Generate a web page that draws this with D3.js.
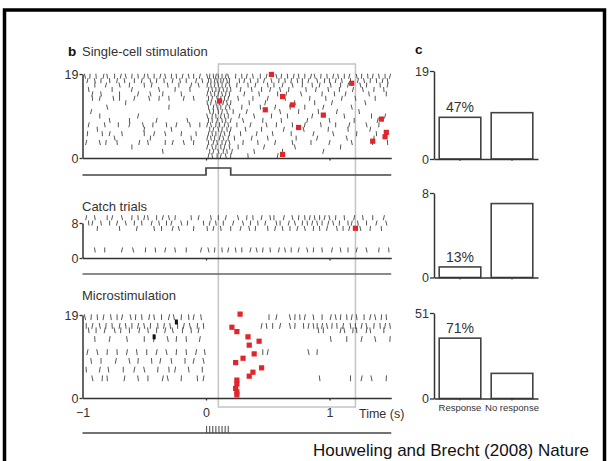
<!DOCTYPE html>
<html><head><meta charset="utf-8">
<script src="https://cdn.jsdelivr.net/npm/d3@7"></script>
<style>
body{margin:0;background:#fff}
svg{display:block}
text{font-family:"Liberation Sans",Arial,Helvetica,sans-serif}
</style>
</head><body>
<svg id="c" width="609" height="461"></svg>
<script>
// ---------------- DATA ----------------
const timeTicks = [-1, 0, 1];
const timeLabels = ["\u22121", "0", "1"];

// Single-cell stimulation: spike times (s), index 0 = trial 1 ... index 18 = trial 19
const singleCellSpikes = [
 [0.02,0.05,0.09,0.12,0.16,0.2,0.34,0.58],
 [-0.35,0.03,0.06,0.1,0.14,0.17,0.21,0.39,0.62,0.95],
 [-0.6,0.01,0.05,0.08,0.12,0.15,0.19,0.26,0.47,0.72,1.09],
 [-0.97,-0.86,-0.81,-0.72,-0.54,-0.47,-0.33,-0.27,-0.18,-0.1,0.02,0.06,0.09,0.13,0.16,0.19,0.3,0.42,0.56,0.7,0.85,1.0,1.18,1.35,1.47],
 [-0.74,-0.45,-0.12,0.01,0.04,0.07,0.11,0.14,0.18,0.23,0.37,0.5,0.73,0.9,1.14,1.36],
 [-0.96,-0.84,-0.78,-0.68,-0.5,-0.42,-0.33,-0.2,-0.08,0.02,0.05,0.08,0.12,0.15,0.19,0.28,0.41,0.54,0.69,0.87,1.03,1.22,1.38],
 [-0.88,-0.5,-0.28,0.03,0.06,0.1,0.13,0.17,0.2,0.32,0.45,0.63,0.79,0.99,1.15,1.33],
 [-0.95,-0.82,-0.71,-0.62,-0.51,-0.43,-0.32,-0.24,-0.13,-0.05,0.01,0.04,0.08,0.11,0.15,0.18,0.25,0.36,0.49,0.57,0.7,0.8,0.93,1.05,1.16,1.3,1.4],
 [-0.78,-0.62,-0.4,-0.15,0.02,0.05,0.09,0.13,0.16,0.2,0.3,0.46,0.61,0.82,1.0,1.2,1.39],
 [-0.86,-0.55,0.01,0.05,0.08,0.12,0.15,0.18,0.27,0.39,0.53,0.66,0.86,1.12,1.34,1.45],
 [-0.93,0.03,0.06,0.1,0.13,0.17,0.22,0.33,0.6,0.75,0.91,1.06,1.24],
 [-0.8,-0.3,0.02,0.06,0.09,0.12,0.16,0.19,0.29,0.44,0.56,0.68,0.8,0.95,1.18],
 [-0.65,0.01,0.04,0.08,0.11,0.14,0.17,0.2,0.35,0.48,0.72,0.88,1.02,1.29],
 [-0.92,-0.86,-0.75,-0.7,-0.58,-0.46,-0.38,-0.3,-0.18,-0.1,0.02,0.05,0.09,0.12,0.15,0.18,0.26,0.38,0.5,0.64,0.84,0.97,1.1,1.21,1.37],
 [-0.92,-0.85,-0.7,-0.55,-0.45,-0.35,-0.2,0.01,0.04,0.07,0.1,0.13,0.16,0.19,0.31,0.43,0.58,0.65,0.77,0.94,1.04,1.13,1.32,1.46],
 [-0.95,-0.76,-0.6,-0.38,-0.25,-0.13,0.02,0.05,0.08,0.11,0.14,0.17,0.2,0.28,0.37,0.45,0.52,0.6,0.67,0.81,0.89,0.99,1.08,1.19,1.27,1.36,1.44],
 [-0.9,-0.81,-0.7,-0.62,-0.5,-0.44,-0.31,-0.22,-0.12,-0.06,0.01,0.04,0.07,0.1,0.13,0.16,0.19,0.25,0.34,0.4,0.5,0.55,0.62,0.7,0.78,0.86,0.92,1.01,1.09,1.15,1.25,1.3,1.41,1.47],
 [-0.96,-0.9,-0.85,-0.78,-0.72,-0.66,-0.58,-0.52,-0.45,-0.4,-0.34,-0.27,-0.21,-0.16,-0.08,-0.03,0.02,0.04,0.07,0.09,0.12,0.14,0.17,0.19,0.27,0.31,0.36,0.42,0.47,0.53,0.59,0.64,0.69,0.74,0.78,0.83,0.9,0.96,1.0,1.05,1.1,1.17,1.23,1.28,1.33,1.38,1.43,1.47],
 [-0.98,-0.94,-0.89,-0.83,-0.8,-0.74,-0.69,-0.65,-0.6,-0.55,-0.5,-0.47,-0.42,-0.37,-0.33,-0.28,-0.24,-0.19,-0.14,-0.1,-0.05,0.01,0.03,0.06,0.08,0.1,0.13,0.16,0.18,0.24,0.29,0.33,0.38,0.44,0.49,0.57,0.61,0.66,0.71,0.75,0.8,0.85,0.88,0.93,0.98,1.03,1.07,1.12,1.16,1.22,1.26,1.31,1.35,1.4,1.45,1.49]
];
// red response markers [time, trial position]
const singleCellMarks = [[0.53,18.9],[1.18,16.9],[0.11,12.9],[0.62,13.9],[0.70,12.0],[0.48,10.9],[0.95,9.7],[1.42,8.8],[0.75,6.9],[1.46,5.8],[1.45,4.8],[1.35,3.8],[0.62,0.8]];
const singleCellStim = [[-1,0],[0,0],[0,1],[0.2,1],[0.2,0],[1.5,0]];

// Catch trials: index 0 = trial 1 ... index 7 = trial 8
const catchSpikes = [
 [],
 [-0.9,-0.82,-0.68,-0.59,-0.49,-0.41,-0.33,-0.25,-0.16,-0.04,0.02,0.07,0.13,0.18,0.24,0.29,0.36,0.41,0.46,0.52,0.59,0.64,0.69,0.75,0.82,0.87,0.94,1.02,1.09,1.15,1.22,1.3,1.4,1.48],
 [],
 [],
 [],
 [-0.88,-0.7,-0.56,-0.42,-0.36,-0.27,-0.22,-0.1,0.01,0.06,0.12,0.2,0.28,0.35,0.4,0.5,0.56,0.62,0.68,0.74,0.8,0.87,0.92,0.98,1.06,1.11,1.16,1.25,1.33,1.42],
 [-0.95,-0.92,-0.85,-0.78,-0.72,-0.65,-0.58,-0.52,-0.44,-0.38,-0.32,-0.28,-0.2,-0.15,-0.02,0.03,0.08,0.14,0.22,0.3,0.36,0.42,0.48,0.57,0.6,0.67,0.72,0.78,0.82,0.86,0.9,0.94,0.99,1.03,1.08,1.15,1.18,1.23,1.3,1.38,1.46],
 [-0.97,-0.9,-0.8,-0.76,-0.68,-0.6,-0.55,-0.5,-0.47,-0.4,-0.35,-0.3,-0.25,-0.12,-0.06,0.04,0.1,0.16,0.26,0.33,0.38,0.45,0.52,0.55,0.63,0.7,0.75,0.8,0.84,0.88,0.92,0.96,1.0,1.05,1.12,1.2,1.27,1.35,1.44]
];
const catchMarks = [[1.21,6.8]];
const catchStim = [[-1,0],[1.5,0]];

// Microstimulation: index 0 = trial 1 ... index 18 = trial 19
const microSpikes = [
 [],[],[],[],
 [-0.92,-0.84,-0.8,-0.66,-0.55,-0.47,-0.35,-0.31,-0.2,-0.07,-0.02,0.92,1.17,1.26,1.34,1.46],
 [],
 [-0.97,-0.86,-0.79,-0.67,-0.58,-0.5,-0.39,-0.3,-0.25,-0.14,-0.03],
 [],
 [-0.93,-0.85,-0.73,-0.62,-0.55,-0.44,-0.37,-0.28,-0.17,-0.1,-0.02],
 [],
 [-0.96,-0.88,-0.8,-0.72,-0.64,-0.56,-0.48,-0.4,-0.32,-0.24,-0.16,-0.08,-0.01,0.46,0.5,0.83,0.9],
 [],[],
 [-0.9,-0.78,-0.64,-0.5,-0.42,-0.31,-0.24,-0.16,-0.05,1.01,1.14,1.26,1.37,1.49],
 [],
 [-0.95,-0.89,-0.82,-0.74,-0.69,-0.62,-0.54,-0.47,-0.4,-0.33,-0.27,-0.19,-0.12,-0.06,0.91,0.95,1.09,1.12,1.19,1.22,1.3,1.33,1.44],
 [-0.97,-0.92,-0.86,-0.81,-0.76,-0.7,-0.65,-0.6,-0.55,-0.5,-0.45,-0.39,-0.34,-0.29,-0.23,-0.18,-0.13,-0.07,-0.02,0.45,0.49,0.54,0.6,0.68,0.72,0.79,0.83,0.87,0.9,0.94,0.98,1.02,1.06,1.11,1.17,1.21,1.26,1.3,1.36,1.41,1.45,1.49],
 [],
 [-0.98,-0.93,-0.88,-0.83,-0.77,-0.72,-0.68,-0.61,-0.57,-0.52,-0.46,-0.42,-0.36,-0.3,-0.26,-0.2,-0.14,-0.1,-0.04,0.51,0.57,0.68,0.72,0.76,0.8,0.87,0.94,1.01,1.05,1.09,1.14,1.18,1.22,1.28,1.33,1.37,1.42,1.46]
];
const microMarks = [[0.276,19.2],[0.21,16.2],[0.25,15.2],[0.34,14.0],[0.43,13.0],[0.35,12.1],[0.39,10.1],[0.30,9.1],[0.24,8.1],[0.45,6.9],[0.38,5.9],[0.35,5.0],[0.25,4.1],[0.25,3.2],[0.24,2.2],[0.25,1.4],[0.25,0.7]];
const microBlackMarks = [[-0.24,17.4],[-0.42,14.0]];
const microStim = [[-1,0],[1.5,0]];
const microPulses = [0.005,0.03,0.055,0.08,0.105,0.13,0.155,0.18];
const analysisWindow = [0.1, 1.21];

// Panel c: trial counts
const barCategories = ["Response", "No response"];
const singleCellCounts = [9, 10];
const catchCounts = [1, 7];
const microCounts = [36, 15];
const trialTotals = [19, 8, 51];
const responsePercents = ["47%", "13%", "71%"];

// ---------------- DRAW ----------------
const svg = d3.select("#c");
const INK = "#333";
const SPIKE = "#555";
const RED = "#e0262a";
const slant = [0.5, -0.4, 0, 0.6, -0.6, 0.2, -0.2];

// frame
svg.append("rect").attr("x", 4.5).attr("y", 10).attr("width", 600).attr("height", 480)
  .attr("fill", "none").attr("stroke", "#000").attr("stroke-width", 3.5);

const x = d3.scaleLinear().domain([-1, 1.5]).range([82.5, 391.25]);

// analysis window (grey box)
svg.append("rect")
  .attr("x", x(analysisWindow[0])).attr("y", 64)
  .attr("width", x(analysisWindow[1]) - x(analysisWindow[0])).attr("height", 343)
  .attr("fill", "none").attr("stroke", "#c4c4c4").attr("stroke-width", 1.5);

// panel letters
svg.append("text").attr("x", 68).attr("y", 56).attr("font-size", 13.5).attr("font-weight", "bold").attr("fill", "#111").text("b");
svg.append("text").attr("x", 415).attr("y", 54).attr("font-size", 13.5).attr("font-weight", "bold").attr("fill", "#111").text("c");

function styleAxis(g, fs) {
  g.select(".domain").attr("stroke", INK).attr("stroke-width", 1.5);
  g.selectAll(".tick line").attr("stroke", INK).attr("stroke-width", 1.3);
  g.selectAll(".tick text").attr("fill", INK).attr("font-size", fs)
    .attr("font-family", '"Liberation Sans",Arial,Helvetica,sans-serif');
}

function rasterPanel(opt) {
  const g = svg.append("g");
  const yAxis = d3.scaleLinear().domain([0, opt.max]).range([opt.y0, opt.yTop]);
  const yRow = d3.scaleLinear().domain([0, opt.rows]).range([opt.y0, opt.rowTop]);
  g.append("text").attr("x", 82).attr("y", opt.titleY).attr("font-size", 13).attr("fill", INK).text(opt.title);
  opt.spikes.forEach((trial, i) => {
    const k = i + 1;
    const cy = yRow(k - 0.5);
    g.selectAll(null).data(trial).enter().append("line")
      .attr("x1", (d, j) => x(d) + slant[(j + i) % slant.length])
      .attr("x2", (d, j) => x(d) - slant[(j + i) % slant.length])
      .attr("y1", cy - opt.tickH / 2).attr("y2", cy + opt.tickH / 2)
      .attr("stroke", SPIKE).attr("stroke-width", 1);
  });
  const ya = g.append("g").attr("transform", `translate(${x(-1)},0)`)
    .call(d3.axisLeft(yAxis).tickValues([0, opt.max]).tickSize(3).tickPadding(1).tickSizeOuter(0));
  styleAxis(ya, 12.5);
  const xa = g.append("g").attr("transform", `translate(0,${opt.y0})`)
    .call(d3.axisBottom(x).tickValues(timeTicks).tickSize(2.5).tickPadding(7.5).tickSizeOuter(0)
      .tickFormat((d, i) => opt.labels ? timeLabels[i] : ""));
  styleAxis(xa, 12.5);
  xa.selectAll(".tick").filter(d => d === -1).select("line").remove();
  g.selectAll(null).data(opt.marks).enter().append("rect")
    .attr("x", d => x(d[0]) - 2.6).attr("y", d => yAxis(d[1]) - 2.6)
    .attr("width", 5.2).attr("height", 5.2).attr("fill", RED);
  if (opt.blackMarks) {
    g.selectAll(null).data(opt.blackMarks).enter().append("rect")
      .attr("x", d => x(d[0]) - 1.5).attr("y", d => yAxis(d[1]) - 2.5)
      .attr("width", 3).attr("height", 5).attr("fill", "#111");
  }
  const ys = d3.scaleLinear().domain([0, 1]).range([opt.stimY, opt.stimY - 7]);
  g.append("path").datum(opt.stim)
    .attr("d", d3.line().x(d => x(d[0])).y(d => ys(d[1])))
    .attr("fill", "none").attr("stroke", opt.stimColor || "#444").attr("stroke-width", 1.7);
  if (opt.pulses) {
    g.selectAll(null).data(opt.pulses).enter().append("line")
      .attr("x1", d => x(d)).attr("x2", d => x(d))
      .attr("y1", ys(0)).attr("y2", ys(1))
      .attr("stroke", "#444").attr("stroke-width", 1);
  }
  return g;
}

rasterPanel({title: "Single-cell stimulation", titleY: 56, spikes: singleCellSpikes, marks: singleCellMarks,
  max: 19, rows: 19, y0: 158, yTop: 74, rowTop: 74, tickH: 5, stim: singleCellStim, stimY: 175});
rasterPanel({title: "Catch trials", titleY: 211, spikes: catchSpikes, marks: catchMarks,
  max: 8, rows: 8, y0: 258, yTop: 223, rowTop: 215, tickH: 5, stim: catchStim, stimY: 274, stimColor: "#666"});
const micro = rasterPanel({title: "Microstimulation", titleY: 300, spikes: microSpikes, marks: microMarks, blackMarks: microBlackMarks,
  max: 19, rows: 19, y0: 398, yTop: 315, rowTop: 315, tickH: 5.8, stim: microStim, stimY: 433, pulses: microPulses, labels: true});
micro.append("text").attr("x", 359).attr("y", 418).attr("font-size", 12.5).attr("fill", INK).text("Time (s)");

// ---- panel c bars ----
const xb = d3.scaleBand().domain(barCategories).range([434, 538]).paddingInner(0.2).paddingOuter(0.1);
const barSets = [singleCellCounts, catchCounts, microCounts];
const barGeom = [[159, 71], [277.5, 193], [398.5, 313]];
barSets.forEach((vals, p) => {
  const g = svg.append("g");
  const yb = d3.scaleLinear().domain([0, trialTotals[p]]).range(barGeom[p]);
  g.selectAll(null).data(vals).enter().append("rect")
    .attr("x", (d, i) => xb(barCategories[i])).attr("y", d => yb(d))
    .attr("width", xb.bandwidth()).attr("height", d => yb(0) - yb(d))
    .attr("fill", "#fff").attr("stroke", "#444").attr("stroke-width", 1.6);
  const ya = g.append("g").attr("transform", `translate(434,0)`)
    .call(d3.axisLeft(yb).tickValues([0, trialTotals[p]]).tickSize(4).tickPadding(1).tickSizeOuter(0));
  styleAxis(ya, 12.5);
  const xa = g.append("g").attr("transform", `translate(0,${yb(0)})`)
    .call(d3.axisBottom(xb).tickSize(2).tickPadding(3.4).tickSizeOuter(0)
      .tickFormat(d => p === 2 ? d : ""));
  styleAxis(xa, 9.5);
  xa.selectAll(".tick line").attr("stroke-width", 1);
  g.append("text").attr("x", xb(barCategories[0]) + xb.bandwidth() / 2).attr("y", yb(vals[0]) - 5)
    .attr("text-anchor", "middle").attr("font-size", 14).attr("fill", INK).text(responsePercents[p]);
});

// source
svg.append("text").attr("x", 589).attr("y", 456).attr("text-anchor", "end")
  .attr("font-size", 17).attr("fill", "#111").text("Houweling and Brecht (2008) Nature");
</script>
</body></html>
